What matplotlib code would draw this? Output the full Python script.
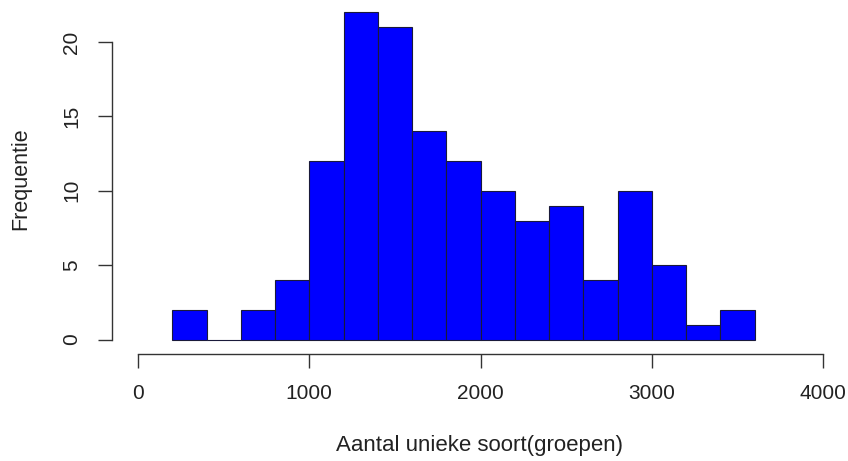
import matplotlib
matplotlib.use("Agg")
import matplotlib.pyplot as plt

# histogram bins (breaks) and frequencies
bin_edges = [200, 400, 600, 800, 1000, 1200, 1400, 1600, 1800, 2000,
             2200, 2400, 2600, 2800, 3000, 3200, 3400, 3600]
counts = [2, 0, 2, 4, 12, 22, 21, 14, 12, 10, 8, 9, 4, 10, 5, 1, 2]
xticks = [0, 1000, 2000, 3000, 4000]
yticks = [0, 5, 10, 15, 20]

plt.rcParams['font.family'] = ['Liberation Sans', 'DejaVu Sans']

W, H = 848, 461
fig = plt.figure(figsize=(W / 100, H / 100), dpi=100)

# pixel geometry
px0, px_per = 138.0, 685.0 / 4000   # x=0 at 138px
py0, py_per = 339.5, 14.87          # y=0 at 339.5px
left_px, right_px = 111.5, 830.0
top_px = 5.0
xmin = (left_px - px0) / px_per
xmax = (right_px - px0) / px_per
ymax = (py0 - top_px) / py_per

ax = fig.add_axes([left_px / W, (H - py0) / H,
                   (right_px - left_px) / W, (py0 - top_px) / H])

widths = [bin_edges[i + 1] - bin_edges[i] for i in range(len(counts))]
bars = ax.bar(bin_edges[:-1], counts, width=widths, align='edge',
              color='#0000ff', edgecolor='#1a1a3a', linewidth=0.8)
for b in bars:
    b.set_clip_on(False)

ax.set_xlim(xmin, xmax)
ax.set_ylim(0, ymax)

for s in ['top', 'right']:
    ax.spines[s].set_visible(False)
ax.spines['bottom'].set_position(('outward', 14 * 0.72))
ax.spines['bottom'].set_bounds(0, 4000)
ax.spines['left'].set_bounds(0, 20)
for s in ['bottom', 'left']:
    ax.spines[s].set_color('#333333')
    ax.spines[s].set_linewidth(1.0)

ax.set_xticks(xticks)
ax.set_yticks(yticks)
ax.tick_params(axis='both', direction='out', length=10, width=1.0,
               color='#333333', labelsize=15, labelcolor='#222222')
ax.tick_params(axis='x', pad=12)
ax.tick_params(axis='y', pad=12)
for lab in ax.get_yticklabels():
    lab.set_rotation(90)
    lab.set_va('center')

fig.text(480 / W, 1 - 445 / H, 'Aantal unieke soort(groepen)', ha='center',
         va='center', fontsize=16, color='#222222')
fig.text(21 / W, 1 - 179 / H, 'Frequentie', ha='center', va='center',
         rotation=90, fontsize=15.5, color='#222222')

fig.savefig('out.png', dpi=100)
